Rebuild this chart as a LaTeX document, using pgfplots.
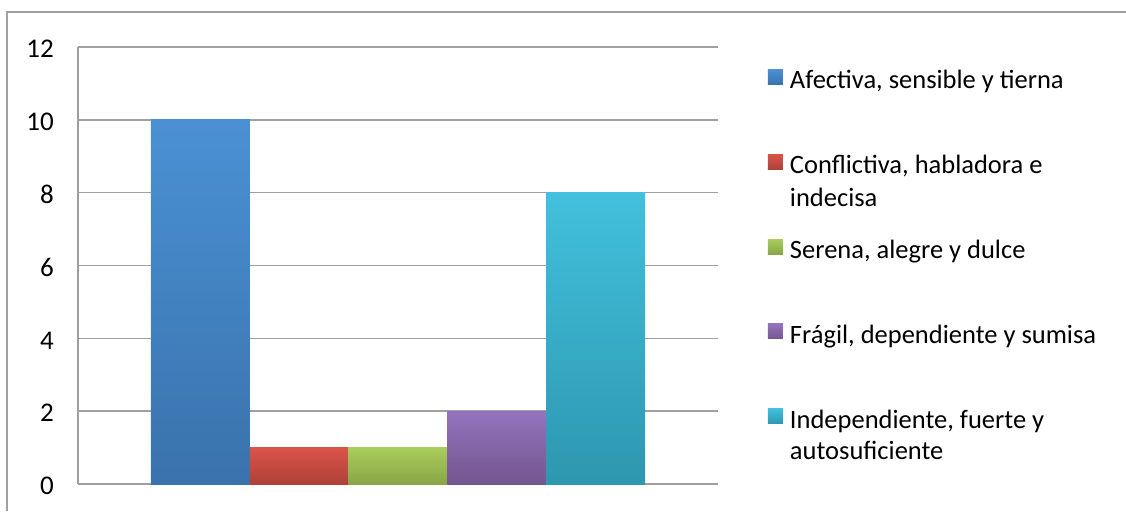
\documentclass[border=0pt]{standalone}
\usepackage{fontspec}
\setmainfont{Carlito}
\usepackage{pgfplots}
\pgfplotsset{compat=1.18}
\definecolor{blueT}{HTML}{4A91D4}
\definecolor{blueB}{HTML}{3A72AC}
\definecolor{redT}{HTML}{DA544B}
\definecolor{redB}{HTML}{AF4139}
\definecolor{greenT}{HTML}{AACC5C}
\definecolor{greenB}{HTML}{88A646}
\definecolor{purpleT}{HTML}{9373BD}
\definecolor{purpleB}{HTML}{74568F}
\definecolor{cyanT}{HTML}{42C0DD}
\definecolor{cyanB}{HTML}{2D97AF}
\definecolor{gridgray}{HTML}{A0A0A0}
\begin{document}
\begin{tikzpicture}[x=1pt,y=1pt]
\useasboundingbox (0,0) rectangle (1126,-511);
\draw[gridgray, line width=1.3pt] (7,-511) -- (7,-12) -- (1126,-12);
\begin{axis}[
  at={(78pt,-484pt)}, anchor=south west,
  width=640pt, height=437pt, scale only axis,
  xmin=-0.5, xmax=0.5, ymin=0, ymax=12,
  ytick={0,2,4,6,8,10,12},
  xtick=\empty,
  axis x line*=bottom, axis y line*=left,
  axis line style={gridgray, line width=1.5pt, -},
  ymajorgrids, grid style={gridgray, line width=1.5pt},
  major tick length=0pt,
  /pgf/number format/assume math mode=true,
  yticklabel style={font=\fontsize{27}{32}\selectfont, inner sep=0pt, anchor=east, xshift=-24pt, yshift=-2pt},
  legend style={at={(axis description cs:1.0781,0.9558)}, anchor=north west, draw=none, fill=none,
    inner sep=0pt, outer sep=0pt, row sep=61pt, column sep=7pt,
    nodes={inner sep=0pt, font=\fontsize{26.5}{32}\selectfont}},
  legend cell align=left,
  legend image code/.code={\path[#1, draw=none] (0pt,-6pt) rectangle (15pt,9pt);},
  clip=false,
]
\addplot[ybar, bar width=0.1544, bar shift=0pt, draw=none, top color=blueT, bottom color=blueB] coordinates {(-0.3088,10)};
\addlegendentry{\strut Afectiva, sensible y tierna}
\addplot[ybar, bar width=0.1544, bar shift=0pt, draw=none, top color=redT, bottom color=redB] coordinates {(-0.1544,1)};
\addlegendentry{\strut\rlap{\raisebox{-33pt}[0pt][0pt]{indecisa}}Conflictiva, habladora e}
\addplot[ybar, bar width=0.1544, bar shift=0pt, draw=none, top color=greenT, bottom color=greenB] coordinates {(0,1)};
\addlegendentry{\strut Serena, alegre y dulce}
\addplot[ybar, bar width=0.1544, bar shift=0pt, draw=none, top color=purpleT, bottom color=purpleB] coordinates {(0.1544,2)};
\addlegendentry{\strut Frágil, dependiente y sumisa}
\addplot[ybar, bar width=0.1544, bar shift=0pt, draw=none, top color=cyanT, bottom color=cyanB] coordinates {(0.3088,8)};
\addlegendentry{\strut\rlap{\raisebox{-31pt}[0pt][0pt]{autosuficiente}}Independiente, fuerte y}
\end{axis}
\end{tikzpicture}
\end{document}
